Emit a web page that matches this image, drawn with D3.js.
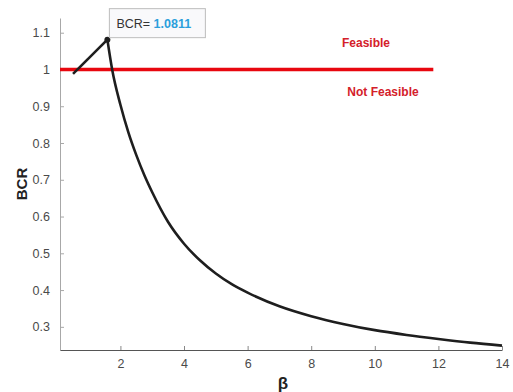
<!DOCTYPE html>
<html>
<head>
<meta charset="utf-8">
<script src="https://cdn.jsdelivr.net/npm/d3@7"></script>
<style>
  html, body { margin: 0; padding: 0; background: #fff; }
  svg { display: block; }
  text { font-family: "Liberation Sans", Arial, sans-serif; }
</style>
</head>
<body>
<svg id="chart" width="513" height="392"></svg>
<script>
// BCR as a function of beta
const beta = [0.51, 1.59, 1.74, 2.0, 2.25, 2.5, 2.75, 3.0, 3.5, 4.0, 4.5, 5.0, 5.5, 6.0, 7.0, 8.0, 9.0, 10.0, 11.0, 12.0, 13.0, 14.0];
const bcr  = [0.988, 1.0811, 1.0, 0.904, 0.829, 0.767, 0.713, 0.666, 0.585, 0.526, 0.481, 0.445, 0.416, 0.393, 0.356, 0.329, 0.308, 0.291, 0.278, 0.267, 0.257, 0.249];

// Feasibility threshold line
const thresholdX = [0.1, 11.84];
const thresholdY = 1;

const xTicks = [2, 4, 6, 8, 10, 12, 14];
const yTicks = [0.3, 0.4, 0.5, 0.6, 0.7, 0.8, 0.9, 1, 1.1];
const xDomain = [0.1, 14];
const yDomain = [0.237, 1.14];

const peakIndex = 1;

const svg = d3.select("#chart");
const plotLeft = 60, plotRight = 502, plotTop = 18, plotBottom = 350;

const x = d3.scaleLinear().domain(xDomain).range([plotLeft, plotRight]);
const y = d3.scaleLinear().domain(yDomain).range([plotBottom, plotTop]);

// Axes (ticks point inward)
const yAxis = svg.append("g")
  .attr("transform", `translate(${plotLeft},0)`)
  .call(d3.axisLeft(y).tickValues(yTicks).tickSizeInner(-4).tickSizeOuter(0).tickPadding(10)
    .tickFormat(d => d === 1 ? "1" : d3.format(".1f")(d)));
yAxis.select(".domain").attr("stroke", "#a8a8a8");
yAxis.selectAll(".tick line").attr("stroke", "#a8a8a8");
yAxis.selectAll(".tick text").attr("fill", "#4a4a4a").attr("font-size", 12.5);

const xAxis = svg.append("g")
  .attr("transform", `translate(0,${plotBottom})`)
  .call(d3.axisBottom(x).tickValues(xTicks).tickSizeInner(-4).tickSizeOuter(0).tickPadding(9)
    .tickFormat(d3.format("d")));
xAxis.select(".domain").attr("stroke", "#555").attr("stroke-width", 1.2);
xAxis.selectAll(".tick line").attr("stroke", "#888");
xAxis.selectAll(".tick text").attr("fill", "#4a4a4a").attr("font-size", 12.5);

// Threshold line
svg.append("line")
  .attr("x1", x(thresholdX[0])).attr("x2", x(thresholdX[1]))
  .attr("y1", y(thresholdY)).attr("y2", y(thresholdY))
  .attr("stroke", "#e8070f").attr("stroke-width", 3.5);

// Curve: straight rise to the peak, smooth decay afterwards
const pts = beta.map((b, i) => [b, bcr[i]]);
const rise = pts.slice(0, peakIndex + 1);
const fall = pts.slice(peakIndex);

svg.append("path")
  .attr("d", d3.line().x(d => x(d[0])).y(d => y(d[1]))(rise))
  .attr("fill", "none").attr("stroke", "#1e1e1e").attr("stroke-width", 2.6);

svg.append("path")
  .attr("d", d3.line().curve(d3.curveMonotoneX).x(d => x(d[0])).y(d => y(d[1]))(fall))
  .attr("fill", "none").attr("stroke", "#1e1e1e").attr("stroke-width", 2.6)
  .attr("stroke-linejoin", "round");

// Data tip at the peak
const px = x(beta[peakIndex]), py = y(bcr[peakIndex]);
svg.append("circle").attr("cx", px).attr("cy", py).attr("r", 3).attr("fill", "#1e1e1e");

const tip = svg.append("g").attr("transform", `translate(${px + 2},${py - 31})`);
tip.append("rect")
  .attr("width", 96).attr("height", 29)
  .attr("fill", "#f9f9fb").attr("stroke", "#bdbdbd").attr("stroke-width", 1);
const tipText = tip.append("text").attr("x", 7).attr("y", 19).attr("font-size", 12.5);
tipText.append("tspan").attr("fill", "#333").text("BCR= ");
tipText.append("tspan").attr("fill", "#2b9fdc").attr("font-weight", "bold")
  .text(d3.format(".4f")(bcr[peakIndex]));

// Region labels
svg.append("text")
  .attr("x", 366).attr("y", 47).attr("text-anchor", "middle")
  .attr("font-size", 12).attr("font-weight", "bold").attr("fill", "#d4202a")
  .text("Feasible");
svg.append("text")
  .attr("x", 383).attr("y", 96).attr("text-anchor", "middle")
  .attr("font-size", 12).attr("font-weight", "bold").attr("fill", "#d4202a")
  .text("Not Feasible");

// Axis titles
svg.append("text")
  .attr("transform", `translate(27,${(plotTop + plotBottom) / 2}) rotate(-90)`)
  .attr("text-anchor", "middle")
  .attr("font-size", 15).attr("font-weight", "bold").attr("fill", "#222")
  .text("BCR");
svg.append("text")
  .attr("x", (plotLeft + plotRight) / 2 + 2).attr("y", 389).attr("text-anchor", "middle")
  .attr("font-size", 17).attr("font-weight", "bold").attr("fill", "#222")
  .text("β");
</script>
</body>
</html>
